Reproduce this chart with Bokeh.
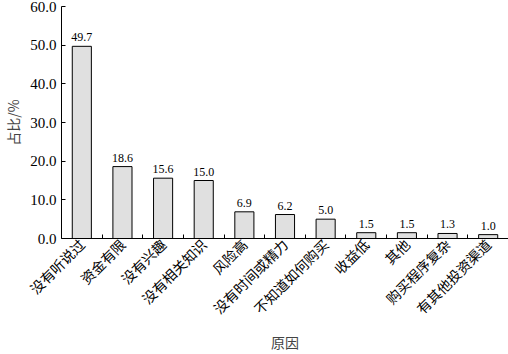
import math
from bokeh.plotting import figure
from bokeh.models import FixedTicker, NumeralTickFormatter, ColumnDataSource, Range1d
from bokeh.core.properties import value
from bokeh.embed import file_html
from bokeh.resources import INLINE

categories = ["没有听说过", "资金有限", "没有兴趣", "没有相关知识", "风险高", "没有时间或精力",
              "不知道如何购买", "收益低", "其他", "购买程序复杂", "有其他投资渠道"]
values = [49.7, 18.6, 15.6, 15.0, 6.9, 6.2, 5.0, 1.5, 1.5, 1.3, 1.0]
y_ticks = [0, 10, 20, 30, 40, 50, 60]

n = len(categories)
xs = list(range(1, n + 1))
src = ColumnDataSource(dict(x=xs, top=values, label=[f"{v:.1f}" for v in values]))

p = figure(width=508, height=354, output_backend="svg", toolbar_location=None,
           x_range=Range1d(0.5, n + 0.5), y_range=Range1d(0, 60),
           min_border_left=0, min_border_right=0, min_border_top=6, min_border_bottom=0)
p.outline_line_color = None
p.xgrid.grid_line_color = None
p.ygrid.grid_line_color = None
p.background_fill_color = "white"
p.border_fill_color = "white"

p.vbar(x="x", top="top", width=0.47, source=src, fill_color="#e0e0e0",
       line_color="black", line_width=1)
p.text(x="x", y="top", text="label", source=src, text_align="center",
       text_baseline="bottom", y_offset=-5, text_font=value("Liberation Serif"),
       text_font_size="12px", text_color="black")

xa = p.xaxis[0]
xa.ticker = FixedTicker(ticks=xs, minor_ticks=[i + 0.5 for i in range(1, n + 1)])
xa.major_label_overrides = {i + 1: c for i, c in enumerate(categories)}
xa.major_tick_in = 0
xa.major_tick_out = 0
xa.minor_tick_in = 4
xa.minor_tick_out = 0
xa.minor_tick_line_color = "black"
xa.major_label_orientation = math.pi / 4
xa.major_label_text_font = "Noto Sans CJK SC"
xa.major_label_text_font_size = "14px"
xa.major_label_text_color = "black"
xa.major_label_standoff = 3
xa.axis_line_color = "black"
xa.axis_label = "原因"
xa.axis_label_text_font = "Noto Sans CJK SC"
xa.axis_label_text_font_style = "normal"
xa.axis_label_text_font_size = "14px"
xa.axis_label_standoff = 4

ya = p.yaxis[0]
ya.ticker = FixedTicker(ticks=y_ticks)
ya.formatter = NumeralTickFormatter(format="0.0")
ya.major_tick_in = 4
ya.major_tick_out = 0
ya.minor_tick_line_color = None
ya.major_label_text_font = "Liberation Serif"
ya.major_label_text_font_size = "15px"
ya.major_label_text_color = "black"
ya.major_label_standoff = 5
ya.axis_line_color = "black"
ya.axis_label = "占比/%"
ya.axis_label_text_font = "Noto Sans CJK SC"
ya.axis_label_text_font_style = "normal"
ya.axis_label_text_font_size = "14px"
ya.axis_label_standoff = 4

open("out.html", "w").write(file_html(p, INLINE))
